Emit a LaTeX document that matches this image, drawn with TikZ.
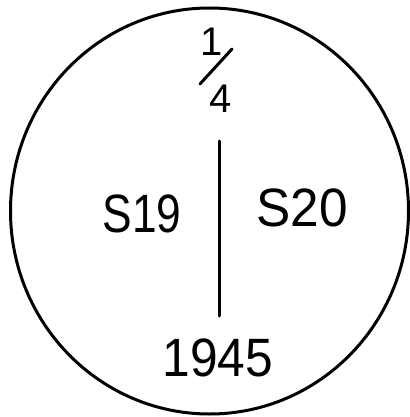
\documentclass[tikz,border=0pt]{standalone}
\usepackage{fontspec}
\setmainfont{Liberation Sans}
\begin{document}
\begin{tikzpicture}[x=1pt,y=-1pt,
  ink/.style={line width=3pt,line cap=round,black},
  big/.style={inner sep=0pt,font=\fontsize{54}{54}\selectfont},
  small/.style={inner sep=0pt,font=\fontsize{40}{40}\selectfont}]
\useasboundingbox (0,0) rectangle (409,417);
\draw[ink] (209.5,211) ellipse [x radius=199, y radius=203];
\node[small] (one) at (212,42) {1};
\node[small] (four) at (221,99) {4};
\coordinate (sa) at (200,84);
\coordinate (sb) at (232,49);
\draw[ink] (sa) -- (sb);
\coordinate (vt) at (219,141);
\coordinate (vb) at (219,316);
\draw[ink] (vt) -- (vb);
\node[big,xscale=0.82] (s19) at (142,214) {S19};
\node[big,xscale=0.95] (s20) at (302,208) {S20};
\node[big,xscale=0.92] (year) at (218,358) {1945};
\end{tikzpicture}
\end{document}
